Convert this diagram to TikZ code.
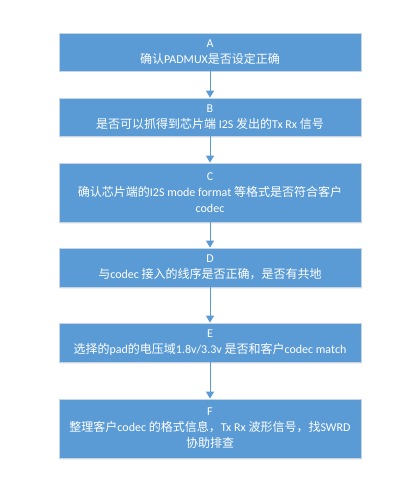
\documentclass[tikz,border=0pt]{standalone}
\usepackage{fontspec}
\setmainfont[Numbers=Lining]{Carlito}
\newfontfamily\zhfont{Noto Sans CJK SC}
\newcommand{\zh}[1]{{\zhfont #1}}
\usetikzlibrary{arrows.meta,shadows}
\definecolor{boxblue}{HTML}{5B9BD5}
\definecolor{boxedge}{HTML}{C5D5E6}
\begin{document}
\begin{tikzpicture}[x=1pt,y=-1pt,
  stepbox/.style={rectangle, fill=boxblue, draw=boxedge, line width=0.8pt,
    minimum width=302pt, inner sep=0pt, align=center, text=white,
    font=\fontsize{12pt}{16pt}\selectfont,
    drop shadow={opacity=0.12, shadow xshift=1pt, shadow yshift=-1.5pt}},
  flow/.style={draw=boxblue, line width=1pt, -{Triangle[width=8pt,length=7pt]}}]
\useasboundingbox (0,0) rectangle (416,492);
\node[stepbox, minimum height=38pt] (a) at (210,52) {A\\\zh{确认}PADMUX\zh{是否设定正确}};
\node[stepbox, minimum height=38pt] (b) at (210,117) {B\\\zh{是否可以抓得到芯片端} I2S \zh{发出的}Tx Rx \zh{信号}};
\node[stepbox, minimum height=59pt] (c) at (210,192.5) {C\\\zh{确认芯片端的}I2S mode format \zh{等格式是否符合客户}\\codec};
\node[stepbox, minimum height=39pt] (d) at (210,267.5) {D\\\zh{与}codec \zh{接入的线序是否正确，是否有共地}};
\node[stepbox, minimum height=39pt] (e) at (210,342.5) {E\\\zh{选择的}pad\zh{的电压域}1.8v/3.3v \zh{是否和客户}codec match};
\node[stepbox, minimum height=59pt] (f) at (210,428.5) {F\\\zh{整理客户}codec \zh{的格式信息，}Tx Rx \zh{波形信号，找}SWRD\\\zh{协助排查}};
\draw[flow] (a) -- (b);
\draw[flow] (b) -- (c);
\draw[flow] (c) -- (d);
\draw[flow] (d) -- (e);
\draw[flow] (e) -- (f);
\end{tikzpicture}
\end{document}
